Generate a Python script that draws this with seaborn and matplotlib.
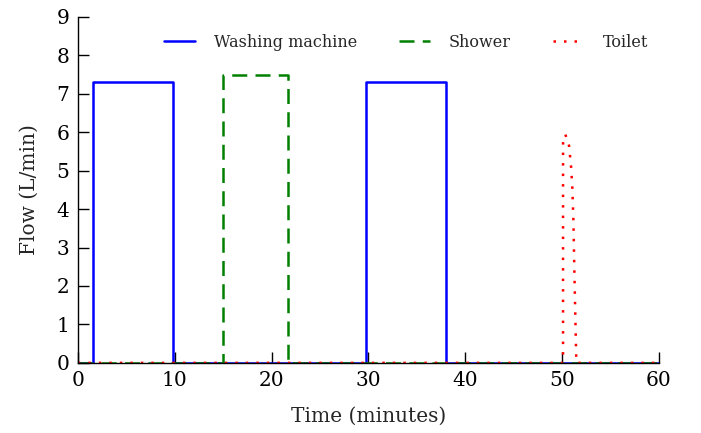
import matplotlib
matplotlib.use("Agg")
import matplotlib.pyplot as plt
import seaborn as sns
import pandas as pd

# Flow profiles of household appliances over one hour
washing_t = [0, 1.55, 1.55, 9.85, 9.85, 29.8, 29.8, 38.0, 38.0, 60]
washing_q = [0, 0, 7.3, 7.3, 0, 0, 7.3, 7.3, 0, 0]

shower_t = [0, 15.0, 15.0, 21.7, 21.7, 60]
shower_q = [0, 0, 7.5, 7.5, 0, 0]

toilet_t = [0, 50.1, 50.1, 50.34, 50.72, 50.93, 51.06, 51.17, 51.27, 51.45, 51.48, 60]
toilet_q = [0, 0, 5.75, 5.94, 5.65, 5.1, 4.55, 3.7, 2.35, 0.25, 0, 0]

x_ticks = [0, 10, 20, 30, 40, 50, 60]
y_ticks = [0, 1, 2, 3, 4, 5, 6, 7, 8, 9]

sns.set_theme(style="ticks")
plt.rcParams["font.family"] = ["DejaVu Serif"]

fig, ax = plt.subplots(figsize=(7.01, 4.33), dpi=100)
fig.subplots_adjust(left=0.111, right=0.94, bottom=0.162, top=0.961)

series = [
    ("Washing machine", washing_t, washing_q, "#0000ff", "-"),
    ("Shower", shower_t, shower_q, "#008000", (0, (6, 3.3))),
    ("Toilet", toilet_t, toilet_q, "#ff0000", (0, (1, 3.2))),
]
for name, t, q, color, ls in series:
    df = pd.DataFrame({"t": t, "q": q})
    sns.lineplot(data=df, x="t", y="q", ax=ax, color=color, linewidth=1.8,
                 estimator=None, sort=False, label=name, linestyle=ls)

ax.set_xlim(0, 60)
ax.set_ylim(0, 9)
ax.set_xticks(x_ticks)
ax.set_yticks(y_ticks)
ax.tick_params(direction="in", length=8, width=1, labelsize=14.5, colors="black", pad=6)
for side in ("top", "right"):
    ax.spines[side].set_visible(False)
for side in ("left", "bottom"):
    ax.spines[side].set_linewidth(1)
    ax.spines[side].set_color("black")
ax.set_xlabel("Time (minutes)", fontsize=14.5, labelpad=12)
ax.set_ylabel("Flow (L/min)", fontsize=14.5, labelpad=13)

ax.legend(loc="upper center", bbox_to_anchor=(0.565, 0.993), ncol=3, frameon=False,
          fontsize=11.5, handlelength=1.9, columnspacing=2.65, handletextpad=1.2)

fig.savefig("out.png", dpi=100)
